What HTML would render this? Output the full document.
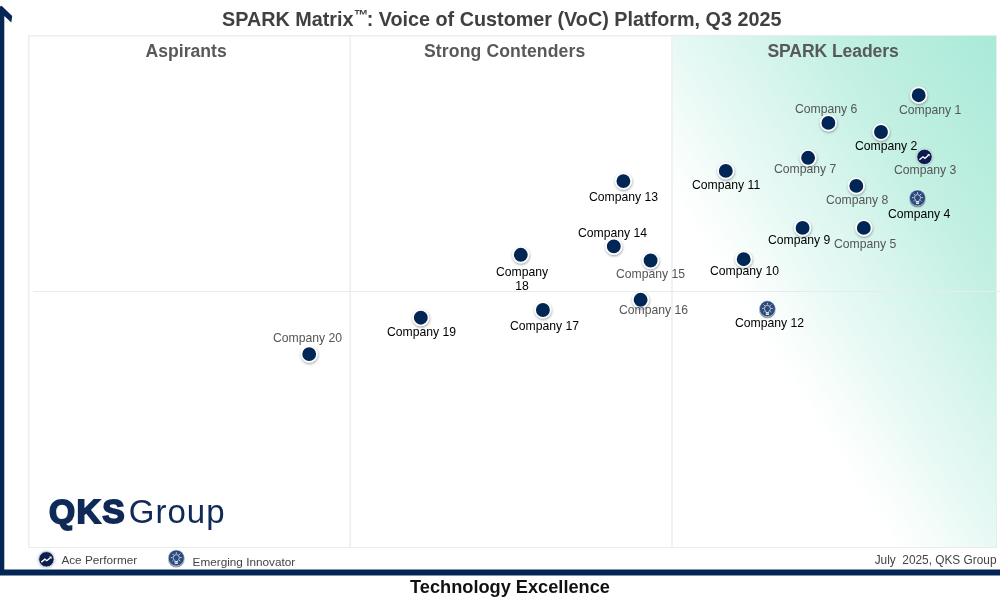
<!DOCTYPE html>
<html lang="en">
<head>
<meta charset="utf-8">
<title>SPARK Matrix: Voice of Customer (VoC) Platform, Q3 2025</title>
<style>
html,body{margin:0;padding:0;background:#fff;}
body{width:1000px;height:600px;position:relative;overflow:hidden;font-family:"Liberation Sans",Arial,sans-serif;}
.abs{position:absolute;}
.title{left:1.7px;width:1000px;top:7px;text-align:center;font-weight:bold;font-size:19.8px;line-height:24px;color:#404040;white-space:nowrap;}
.title sup{font-size:14.2px;line-height:0;vertical-align:baseline;position:relative;top:-6.3px;margin-left:.3px;margin-right:-1.4px;}
.plot{left:28px;top:35px;width:969px;height:513px;border:1px solid #eaeded;box-shadow:inset 1px 1px 0 0 #f5f7f7;box-sizing:border-box;}
.leaders{left:672.5px;top:36px;width:323.5px;height:511px;background:linear-gradient(to bottom left,#a9ead8 0%,#c3f0e3 26%,#d6f5ec 38%,#e7f9f4 50%,#f6fdfb 59%,#ffffff 66%);}
.vline{top:36px;width:2px;height:511px;background:#f0f2f2;}
.hline{left:33px;top:290.8px;width:967px;height:1px;background:#e8ebeb;}
.hdr{top:41px;font-weight:bold;font-size:17.6px;line-height:20px;color:#595959;white-space:nowrap;}
.lbl{font-size:12.2px;line-height:14px;color:#000;white-space:nowrap;}
.lbl.g{color:#555;}
.leg{font-size:11.75px;line-height:14px;color:#444;white-space:nowrap;}
.qks{left:49px;top:492px;font-size:33px;line-height:40px;color:#0f2a57;white-space:nowrap;}
.qks b{font-size:33.6px;font-weight:bold;-webkit-text-stroke:1.8px #0f2a57;letter-spacing:1.5px;}
.qks span{letter-spacing:1px;margin-left:2.6px;}
.xl{left:10px;width:1000px;top:577px;text-align:center;font-weight:bold;font-size:18.2px;line-height:20px;color:#111;}
</style>
</head>
<body>
<div class="abs title">SPARK Matrix<sup>™</sup>: Voice of Customer (VoC) Platform, Q3 2025</div>
<div class="abs plot"></div>
<div class="abs leaders"></div>
<div class="abs vline" style="left:349px;background:linear-gradient(to right,#f3f5f5 50%,#eef0f0 50%)"></div>
<div class="abs vline" style="left:671px"></div>
<div class="abs hline"></div>
<div class="abs hdr" style="left:145.6px">Aspirants</div>
<div class="abs hdr" style="left:424px;letter-spacing:.12px">Strong Contenders</div>
<div class="abs hdr" style="left:767.4px;letter-spacing:-.1px">SPARK Leaders</div>
<svg class="abs" style="left:0;top:0" width="1000" height="600" viewBox="0 0 1000 600"><path d="M0 6.4 L1.6 5.8 L12.2 16 L11.3 22.4 L4.3 15.9 L4.3 569.5 L1000 569.5 L1000 575.6 L0 575.6 Z" fill="#052654"/></svg>

<svg class="abs" style="left:0;top:0" width="1000" height="600" viewBox="0 0 1000 600"><defs><filter id="ds" x="-40%" y="-40%" width="180%" height="200%"><feDropShadow dx="0.3" dy="1.1" stdDeviation="0.9" flood-color="#3c4a5c" flood-opacity="0.55"/></filter><filter id="gl" x="-50%" y="-50%" width="200%" height="200%"><feDropShadow dx="0" dy="0.3" stdDeviation="0.9" flood-color="#56627a" flood-opacity="0.6"/></filter><filter id="ds2" x="-50%" y="-50%" width="200%" height="200%"><feDropShadow dx="0" dy="1.1" stdDeviation="0.5" flood-color="#4e5a62" flood-opacity="0.85"/></filter></defs><g fill="#052654" stroke="#fff" stroke-width="1.7" filter="url(#ds)">
<circle cx="918.7" cy="95.2" r="7.8"/>
<circle cx="881.0" cy="132.0" r="7.8"/>
<circle cx="863.8" cy="227.9" r="7.8"/>
<circle cx="828.4" cy="122.9" r="7.8"/>
<circle cx="808.1" cy="157.8" r="7.8"/>
<circle cx="856.3" cy="185.9" r="7.8"/>
<circle cx="802.6" cy="227.9" r="7.8"/>
<circle cx="743.7" cy="259.2" r="7.8"/>
<circle cx="725.8" cy="170.9" r="7.8"/>
<circle cx="623.4" cy="181.1" r="7.8"/>
<circle cx="613.8" cy="246.4" r="7.8"/>
<circle cx="650.6" cy="260.5" r="7.8"/>
<circle cx="640.6" cy="299.8" r="7.8"/>
<circle cx="542.9" cy="310.0" r="7.8"/>
<circle cx="520.8" cy="254.8" r="7.8"/>
<circle cx="420.8" cy="317.7" r="7.8"/>
<circle cx="309.2" cy="354.1" r="7.8"/>
</g>
<g transform="translate(924.5 156.9)"><circle r="7.7" fill="#081f50" stroke="#f2f6f8" stroke-opacity=".9" stroke-width=".8" filter="url(#gl)"/><path d="M-5.1 2.8 L-1.5 -0.1 L0.4 1.4 L4 -1.6" fill="none" stroke="#fff" stroke-width="1.4"/><path d="M2.6 -2.9 L5.2 -2.9 L5.2 -0.4 Z" fill="#fff"/></g>
<g transform="translate(917.5 198.0)"><circle r="8.0" fill="#2c4a7d" stroke="#f4f7f9" stroke-opacity=".9" stroke-width=".6" filter="url(#ds2)"/><g fill="none" stroke="#d2d9e4" stroke-width="0.9" stroke-linecap="round"><path d="M-1.5 3.0 L-1.5 2.4 C-2.6 1.7 -3 0.7 -3 -0.4 a3 3 0 0 1 6 0 C3 0.7 2.6 1.7 1.5 2.4 L1.5 3.0"/><path d="M0.00 -4.50 L0.00 -5.50 M2.90 -3.30 L3.61 -4.01 M-2.90 -3.30 L-3.61 -4.01 M4.10 -0.40 L5.10 -0.40 M-4.10 -0.40 L-5.10 -0.40 M3.05 2.34 L3.79 3.01 M-3.05 2.34 L-3.79 3.01"/></g><rect x="-1.6" y="3.1" width="3.2" height="3" rx="0.5" fill="#e3e8ef"/><path d="M-1.6 4.6 H1.6" stroke="#5b76a3" stroke-width=".5"/></g>
<g transform="translate(767.4 308.8)"><circle r="8.0" fill="#2c4a7d" stroke="#f4f7f9" stroke-opacity=".9" stroke-width=".6" filter="url(#ds2)"/><g fill="none" stroke="#d2d9e4" stroke-width="0.9" stroke-linecap="round"><path d="M-1.5 3.0 L-1.5 2.4 C-2.6 1.7 -3 0.7 -3 -0.4 a3 3 0 0 1 6 0 C3 0.7 2.6 1.7 1.5 2.4 L1.5 3.0"/><path d="M0.00 -4.50 L0.00 -5.50 M2.90 -3.30 L3.61 -4.01 M-2.90 -3.30 L-3.61 -4.01 M4.10 -0.40 L5.10 -0.40 M-4.10 -0.40 L-5.10 -0.40 M3.05 2.34 L3.79 3.01 M-3.05 2.34 L-3.79 3.01"/></g><rect x="-1.6" y="3.1" width="3.2" height="3" rx="0.5" fill="#e3e8ef"/><path d="M-1.6 4.6 H1.6" stroke="#5b76a3" stroke-width=".5"/></g>
<g transform="translate(46.4 559.3)"><circle r="7.7" fill="#081f50" stroke="#f2f6f8" stroke-opacity=".9" stroke-width=".8" filter="url(#gl)"/><path d="M-5.1 2.8 L-1.5 -0.1 L0.4 1.4 L4 -1.6" fill="none" stroke="#fff" stroke-width="1.4"/><path d="M2.6 -2.9 L5.2 -2.9 L5.2 -0.4 Z" fill="#fff"/></g>
<g transform="translate(176.3 558.0)"><circle r="8.0" fill="#2c4a7d" stroke="#f4f7f9" stroke-opacity=".9" stroke-width=".6" filter="url(#ds2)"/><g fill="none" stroke="#d2d9e4" stroke-width="0.9" stroke-linecap="round"><path d="M-1.5 3.0 L-1.5 2.4 C-2.6 1.7 -3 0.7 -3 -0.4 a3 3 0 0 1 6 0 C3 0.7 2.6 1.7 1.5 2.4 L1.5 3.0"/><path d="M0.00 -4.50 L0.00 -5.50 M2.90 -3.30 L3.61 -4.01 M-2.90 -3.30 L-3.61 -4.01 M4.10 -0.40 L5.10 -0.40 M-4.10 -0.40 L-5.10 -0.40 M3.05 2.34 L3.79 3.01 M-3.05 2.34 L-3.79 3.01"/></g><rect x="-1.6" y="3.1" width="3.2" height="3" rx="0.5" fill="#e3e8ef"/><path d="M-1.6 4.6 H1.6" stroke="#5b76a3" stroke-width=".5"/></g>
</svg>
<div class="abs lbl g" style="left:899px;top:103px">Company 1</div>
<div class="abs lbl" style="left:855px;top:139px">Company 2</div>
<div class="abs lbl g" style="left:894px;top:163px">Company 3</div>
<div class="abs lbl" style="left:888px;top:207px">Company 4</div>
<div class="abs lbl g" style="left:834px;top:237px">Company 5</div>
<div class="abs lbl g" style="left:795px;top:102px">Company 6</div>
<div class="abs lbl g" style="left:774px;top:162px">Company 7</div>
<div class="abs lbl g" style="left:826px;top:193px">Company 8</div>
<div class="abs lbl" style="left:768px;top:233px">Company 9</div>
<div class="abs lbl" style="left:710px;top:264px">Company 10</div>
<div class="abs lbl" style="left:692px;top:178px">Company 11</div>
<div class="abs lbl" style="left:735px;top:316px">Company 12</div>
<div class="abs lbl" style="left:589px;top:190px">Company 13</div>
<div class="abs lbl" style="left:578px;top:226px">Company 14</div>
<div class="abs lbl g" style="left:616px;top:267px">Company 15</div>
<div class="abs lbl g" style="left:619px;top:303px">Company 16</div>
<div class="abs lbl" style="left:510px;top:319px">Company 17</div>
<div class="abs lbl" style="left:387px;top:325px">Company 19</div>
<div class="abs lbl g" style="left:273px;top:331px">Company 20</div>
<div class="abs lbl" style="left:496px;top:265px;width:52px;text-align:center;line-height:14.4px">Company<br>18</div>
<div class="abs qks"><b>QKS</b><span>Group</span></div>
<div class="abs leg" style="left:61.4px;top:553.4px">Ace Performer</div>
<div class="abs leg" style="left:192.6px;top:555.2px">Emerging Innovator</div>
<div class="abs leg" style="left:874.7px;top:552.7px;font-size:11.85px;white-space:pre">July  2025, QKS Group</div>
<div class="abs xl">Technology Excellence</div>
</body>
</html>
